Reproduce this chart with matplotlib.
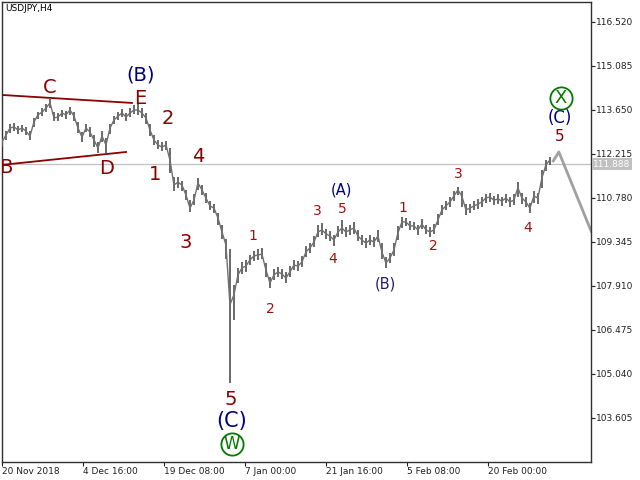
import matplotlib
matplotlib.use('Agg')
import matplotlib.pyplot as plt
import matplotlib.transforms as mtransforms
import numpy as np

# ---------------- data ----------------
close = [112.61, 112.83, 113.06, 113.10, 113.00, 113.06, 112.96, 112.80, 113.26, 113.49,
         113.58, 113.71, 113.88, 113.39, 113.42, 113.55, 113.49, 113.65, 113.45, 113.06,
         112.77, 113.06, 112.93, 112.67, 112.41, 112.80, 112.51, 113.06, 113.32, 113.45,
         113.55, 113.42, 113.55, 113.65, 113.65, 113.55, 113.39, 113.00, 112.67, 112.51,
         112.44, 112.51, 112.02, 111.20, 111.30, 111.20, 110.88, 110.45, 110.71, 111.27,
         111.04, 110.78, 110.52, 110.45, 110.13, 109.67, 109.25, 107.30, 107.62, 108.27,
         108.50, 108.56, 108.76, 108.89, 108.92, 108.95, 108.43, 108.01, 108.27, 108.37,
         108.30, 108.17, 108.37, 108.59, 108.56, 108.69, 109.02, 109.15, 109.34, 109.67,
         109.74, 109.61, 109.54, 109.41, 109.67, 109.80, 109.67, 109.74, 109.80, 109.54,
         109.41, 109.31, 109.41, 109.34, 109.54, 109.02, 108.66, 108.82, 109.08, 109.64,
         110.00, 110.00, 109.87, 109.87, 109.74, 109.93, 109.74, 109.67, 109.74, 110.06,
         110.39, 110.52, 110.65, 110.84, 111.04, 110.84, 110.39, 110.45, 110.52, 110.58,
         110.65, 110.78, 110.81, 110.71, 110.75, 110.68, 110.78, 110.65, 110.71, 111.11,
         110.78, 110.65, 110.45, 110.84, 110.78, 111.43, 111.86, 112.02]
high = [112.75, 112.98, 113.18, 113.22, 113.12, 113.15, 113.08, 112.98, 113.40, 113.60,
        113.70, 113.85, 114.04, 113.60, 113.55, 113.66, 113.62, 113.76, 113.60, 113.25,
        112.92, 113.20, 113.08, 112.85, 112.62, 112.95, 112.75, 113.20, 113.45, 113.58,
        113.68, 113.56, 113.70, 113.80, 113.84, 113.70, 113.55, 113.20, 112.85, 112.68,
        112.60, 112.65, 112.40, 111.45, 111.48, 111.35, 111.05, 110.70, 110.90, 111.42,
        111.20, 110.95, 110.68, 110.60, 110.30, 109.90, 109.45, 109.10, 107.95, 108.50,
        108.70, 108.75, 108.92, 109.05, 109.10, 109.15, 108.65, 108.20, 108.45, 108.52,
        108.48, 108.35, 108.55, 108.75, 108.74, 108.88, 109.20, 109.32, 109.55, 109.90,
        109.95, 109.78, 109.70, 109.58, 109.85, 110.05, 109.84, 109.90, 110.00, 109.72,
        109.58, 109.48, 109.58, 109.50, 109.75, 109.30, 108.85, 109.00, 109.30, 109.85,
        110.15, 110.12, 110.02, 110.00, 109.90, 110.08, 109.90, 109.82, 109.92, 110.25,
        110.55, 110.68, 110.80, 111.00, 111.15, 111.02, 110.60, 110.60, 110.68, 110.74,
        110.80, 110.92, 110.95, 110.86, 110.90, 110.82, 110.92, 110.80, 110.90, 111.30,
        110.95, 110.80, 110.62, 111.02, 110.95, 111.70, 112.02, 112.12]
low = [112.45, 112.68, 112.90, 112.98, 112.88, 112.94, 112.82, 112.66, 113.08, 113.35,
       113.45, 113.58, 113.70, 113.28, 113.30, 113.42, 113.36, 113.50, 113.30, 112.90,
       112.62, 112.92, 112.78, 112.45, 112.26, 112.62, 112.24, 112.88, 113.18, 113.32,
       113.42, 113.30, 113.42, 113.52, 113.50, 113.40, 113.20, 112.80, 112.50, 112.38,
       112.30, 112.36, 111.60, 111.00, 111.12, 111.02, 110.70, 110.32, 110.55, 111.05,
       110.88, 110.62, 110.38, 110.30, 109.90, 109.45, 108.80, 104.75, 106.80, 108.00,
       108.30, 108.38, 108.58, 108.72, 108.75, 108.78, 108.20, 107.86, 108.10, 108.20,
       108.14, 108.00, 108.20, 108.42, 108.40, 108.52, 108.85, 109.00, 109.18, 109.50,
       109.58, 109.45, 109.38, 109.22, 109.50, 109.62, 109.50, 109.58, 109.62, 109.38,
       109.25, 109.15, 109.25, 109.18, 109.35, 108.80, 108.50, 108.65, 108.90, 109.40,
       109.80, 109.85, 109.72, 109.72, 109.58, 109.78, 109.60, 109.52, 109.60, 109.90,
       110.22, 110.38, 110.50, 110.68, 110.88, 110.50, 110.24, 110.30, 110.38, 110.42,
       110.50, 110.62, 110.66, 110.56, 110.60, 110.52, 110.62, 110.50, 110.55, 110.80,
       110.60, 110.48, 110.30, 110.62, 110.60, 111.10, 111.65, 111.85]

# projection zigzag (bar index, price)
proj_x = [435.0, 440.0, 466.0]
proj_y = [111.95, 112.28, 109.65]

current_price = 111.888

# triangle lines (bar, price)
tri_upper_x = [0.0, 102.7]
tri_upper_y = [114.14, 113.88]
tri_lower_x = [0.0, 98.0]
tri_lower_y = [111.86, 112.28]

price_ticks = [103.605, 105.040, 106.475, 107.910, 109.345, 110.780, 112.215, 113.650, 115.085, 116.520]
time_tick_pos = [0, 64, 128, 192, 256, 320, 384]
time_tick_labels = ['20 Nov 2018', '4 Dec 16:00', '19 Dec 08:00', '7 Jan 00:00',
                    '21 Jan 16:00', '5 Feb 08:00', '20 Feb 00:00']

RED = '#8B0000'
RED2 = '#A01010'
NAVY = '#000080'
GREEN = '#007A00'
labels_big = [('C', 37.9, 114.37), ('E', 109.0, 114.01), ('B', 3.0, 111.79), ('D', 83.0, 111.73),
              ('2', 131.2, 113.36), ('1', 120.9, 111.53), ('4', 154.9, 112.12),
              ('3', 145.4, 109.34), ('5', 181.0, 104.22)]
labels_small = [('1', 198.3, 109.54), ('2', 211.8, 107.16), ('3', 248.9, 110.36),
                ('5', 268.6, 110.42), ('4', 261.5, 108.79), ('1', 316.8, 110.45),
                ('2', 340.6, 109.21), ('3', 360.3, 111.56), ('4', 415.6, 109.80)]

# ---------------- figure ----------------
fig = plt.figure(figsize=(6.4, 4.8), dpi=100)
ax = fig.add_axes([2/640, 18/480, 589/640, 460/480])
ax.set_xlim(0, 465.4)
ax.set_ylim(102.169, 117.172)

pos = np.arange(len(close)) * 3.16
ax.axhline(current_price, color='#C0C0C0', lw=0.9, zorder=1)
ax.vlines(pos, low, high, color='#5E5E5E', lw=1.3, zorder=3)
ax.plot(pos, close, color='#707070', lw=1.0, zorder=3)
ax.plot(proj_x, proj_y, color='#A0A0A0', lw=2.0, zorder=2, solid_capstyle='butt')

ax.plot(tri_upper_x, tri_upper_y, color=RED, lw=1.3, zorder=2)
ax.plot(tri_lower_x, tri_lower_y, color=RED, lw=1.3, zorder=2)

for t, x, y in labels_big:
    ax.text(x, y, t, color=RED, fontsize=14, ha='center', va='center', clip_on=True, zorder=5)
for t, x, y in labels_small:
    ax.text(x, y, t, color=RED2, fontsize=10, ha='center', va='center', zorder=5)

ax.text(109.8, 114.79, '(B)', color=NAVY, fontsize=14, ha='center', va='center')
ax.text(181.7, 103.51, '(C)', color=NAVY, fontsize=15, ha='center', va='center')
ax.text(268.6, 111.04, '(A)', color=NAVY, fontsize=10.5, ha='center', va='center')
ax.text(302.6, 107.97, '(B)', color='#2A1A70', fontsize=10.5, ha='center', va='center')
ax.text(440.9, 112.77, '5', color=RED, fontsize=11, ha='center', va='center')
ax.text(440.9, 113.39, '(C)', color=NAVY, fontsize=12, ha='center', va='center')

# circled labels
ax.plot([181.7], [102.76], marker='o', ms=16, mfc='none', mec=GREEN, mew=1.3, zorder=5)
ax.text(181.7, 102.76, 'W', color=GREEN, fontsize=12, ha='center', va='center', zorder=6)
ax.plot([441.7], [114.04], marker='o', ms=16, mfc='none', mec=GREEN, mew=1.3, zorder=5)
ax.text(441.7, 114.04, 'X', color=GREEN, fontsize=13, ha='center', va='center', zorder=6)

ax.text(0.006, 0.995, 'USDJPY,H4', transform=ax.transAxes, fontsize=6.5, ha='left', va='top')

for s in ax.spines.values():
    s.set_color('#303030')
    s.set_linewidth(1.0)
ax.yaxis.tick_right()
ax.set_yticks(price_ticks)
ax.set_yticklabels(['%.3f' % v for v in price_ticks])
ax.set_xticks(time_tick_pos)
ax.set_xticklabels(time_tick_labels, ha='left')
ax.tick_params(axis='both', direction='out', length=3, width=0.8, labelsize=6.5, pad=0.8, colors='#202020')

trans = mtransforms.blended_transform_factory(ax.transAxes, ax.transData)
ax.text(1.004, current_price, '%.3f' % current_price, transform=trans, fontsize=6.5, color='white',
        ha='left', va='center', bbox=dict(boxstyle='square,pad=0.15', fc='#C0C0C0', ec='none'))

fig.savefig('out.png', dpi=100)
